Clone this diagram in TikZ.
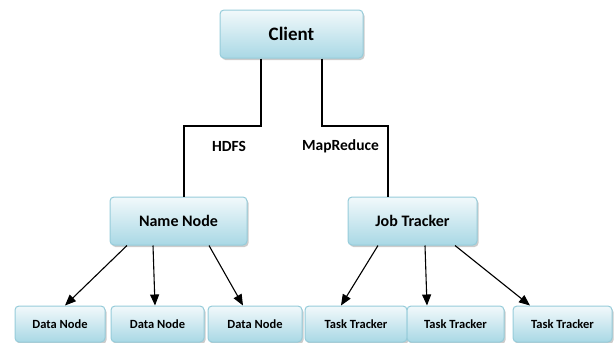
\documentclass[tikz,border=0pt]{standalone}
\usepackage{fontspec}
\setmainfont{Carlito}
\usetikzlibrary{arrows.meta,shadows}
\definecolor{boxtop}{HTML}{F2F9FB}
\definecolor{boxbot}{HTML}{A9D8E5}
\definecolor{boxline}{HTML}{96CCDA}
\begin{document}
\begin{tikzpicture}[x=1pt,y=-1pt,
  hbox/.style={draw=boxline, line width=1pt, rounded corners=4pt,
    top color=boxtop, bottom color=boxbot, inner sep=0pt,
    drop shadow={shadow xshift=1.5pt, shadow yshift=-2pt, opacity=0.4},
    font=\bfseries},
  bigbox/.style={hbox, minimum height=48pt},
  smallbox/.style={hbox, minimum height=36pt, font=\bfseries\fontsize{12.5}{14}\selectfont},
  conn/.style={line width=1.1pt, black},
  arr/.style={line width=1.1pt, black, -{Triangle[length=11pt,width=9pt]}},
  lbl/.style={font=\bfseries\fontsize{15.5}{18}\selectfont, inner sep=0pt}
]
\useasboundingbox (0,0) rectangle (614,343);

\node[bigbox, minimum width=143pt, font=\bfseries\fontsize{19}{21}\selectfont] (client) at (291.5,34) {Client};
\node[bigbox, minimum width=137pt, font=\bfseries\fontsize{16}{18}\selectfont] (name) at (178.5,221) {Name Node};
\node[bigbox, minimum width=129pt, font=\bfseries\fontsize{16}{18}\selectfont] (job) at (412.5,221) {Job Tracker};

\node[smallbox, minimum width=90pt] (dn1) at (60,324) {Data Node};
\node[smallbox, minimum width=93pt] (dn2) at (157.5,324) {Data Node};
\node[smallbox, minimum width=94pt] (dn3) at (255,324) {Data Node};

\node[smallbox, minimum width=102pt] (tt1) at (356,324) {Task Tracker};
\node[smallbox, minimum width=97pt] (tt2) at (455.5,324) {Task Tracker};
\node[smallbox, minimum width=99pt] (tt3) at (562.5,324) {Task Tracker};

\coordinate (hl) at (261,126);
\coordinate (hr) at (322,126);

\draw[conn] (client.south -| hl) -- (hl) -| ([xshift=5.5pt]name.north);
\draw[conn] (client.south -| hr) -- (hr) -| ([xshift=-24.5pt]job.north);

\node[lbl] (hdfs) at (229,146) {HDFS};
\node[lbl] (mr) at (340.5,146) {MapReduce};

\draw[arr] ([xshift=-51.5pt]name.south) -- ([xshift=5pt]dn1.north);
\draw[arr] ([xshift=-25.5pt]name.south) -- ([xshift=-2.5pt]dn2.north);
\draw[arr] ([xshift=30.5pt]name.south) -- ([xshift=-12pt]dn3.north);

\draw[arr] ([xshift=-34.5pt]job.south) -- ([xshift=-15pt]tt1.north);
\draw[arr] ([xshift=12.5pt]job.south) -- ([xshift=-28.5pt]tt2.north);
\draw[arr] ([xshift=42.5pt]job.south) -- ([xshift=-32.5pt]tt3.north);
\end{tikzpicture}
\end{document}
